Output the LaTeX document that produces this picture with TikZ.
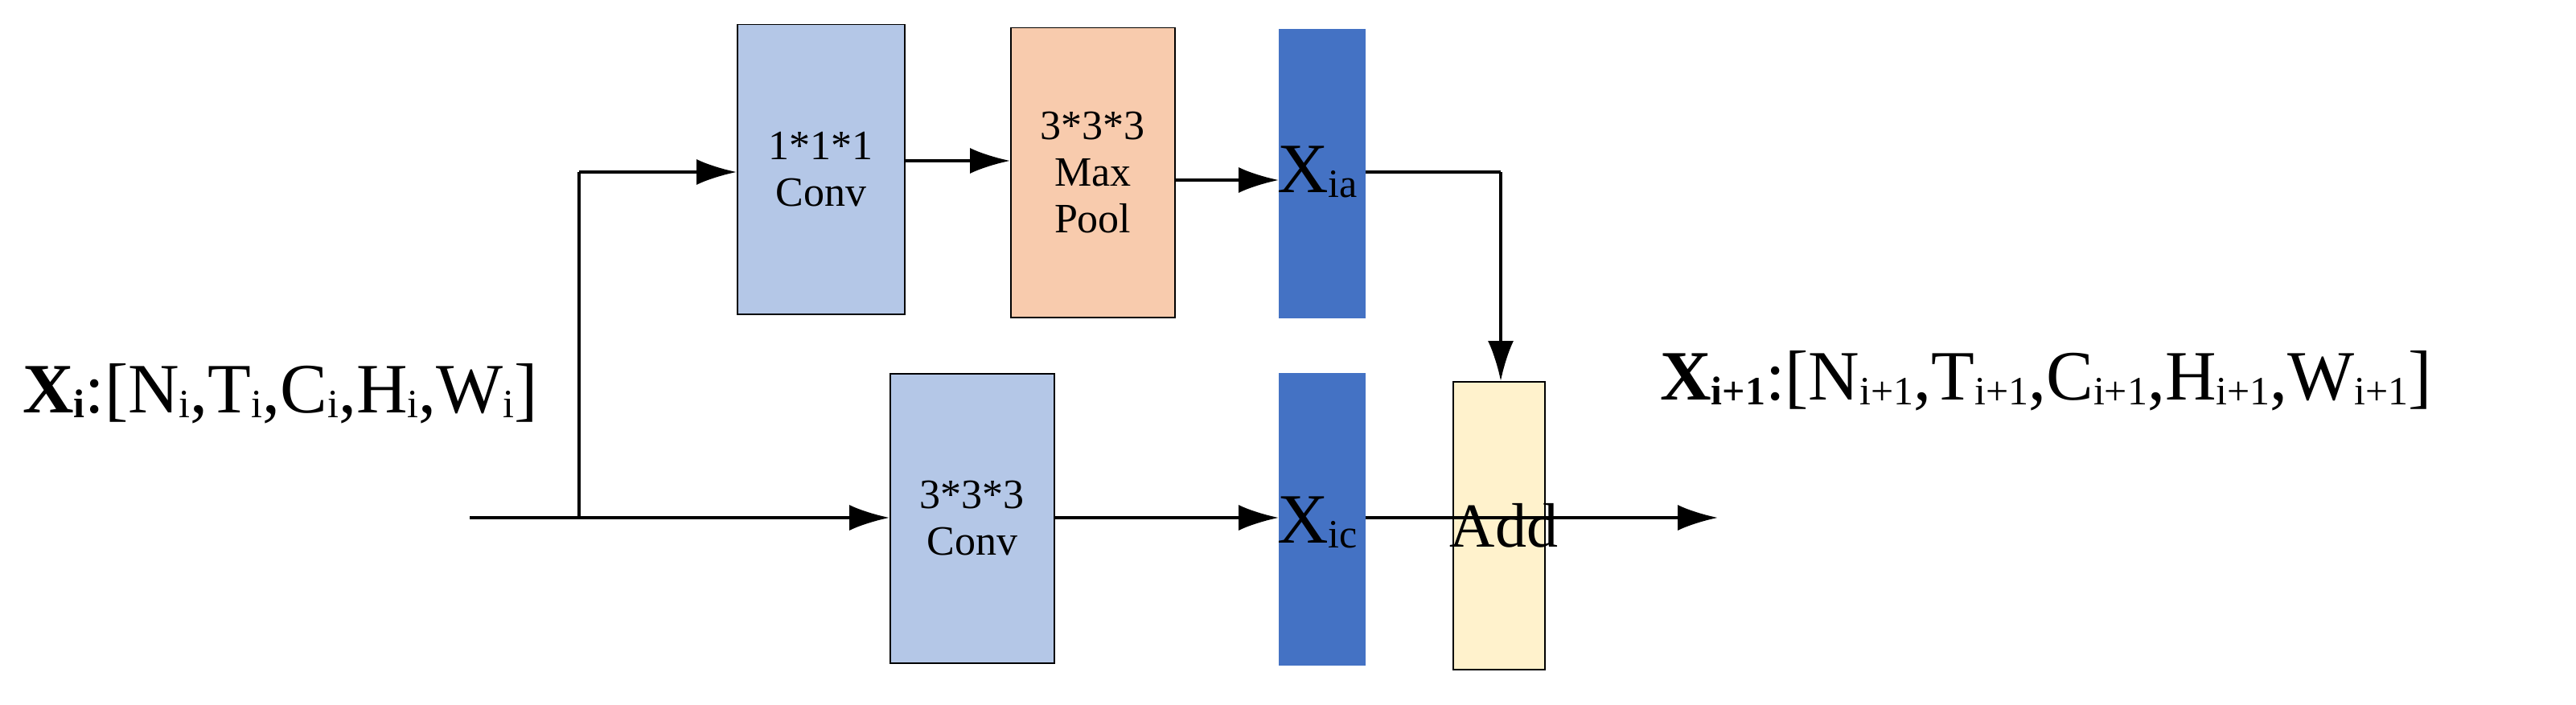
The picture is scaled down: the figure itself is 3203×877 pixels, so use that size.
\documentclass[tikz,border=0pt]{standalone}
\usepackage{fontspec}
\setmainfont{Liberation Serif}
\usetikzlibrary{arrows.meta}
\newcommand\sbx[1]{\raisebox{-0.06em}{\fontsize{50}{52}\selectfont #1}}
\begin{document}
\begin{tikzpicture}[x=1pt,y=-1pt,
  box/.style={draw=black,line width=1.5pt,anchor=north west,inner sep=0pt,align=center},
  lbl/.style={font=\fontsize{52}{58}\selectfont},
  big/.style={font=\fontsize{88}{92}\selectfont},
  add/.style={font=\fontsize{78}{82}\selectfont},
  con/.style={line width=4pt,-{Latex[length=50pt,width=32pt]}},
  ln/.style={line width=4pt}]
\useasboundingbox (0,0) rectangle (3203,877);
\node[box,fill={rgb,255:red,180;green,199;blue,231},minimum width=208pt,minimum height=360pt] (c1) at (916,30) {};
\node[lbl,align=center] at (c1.center) {1*1*1\\Conv};
\node[box,fill={rgb,255:red,248;green,203;blue,173},minimum width=204pt,minimum height=360pt] (mp) at (1256,34) {};
\node[lbl,align=center] at (mp.center) {3*3*3\\Max\\Pool};
\node[box,draw={rgb,255:red,68;green,114;blue,196},fill={rgb,255:red,68;green,114;blue,196},minimum width=106pt,minimum height=358pt] (xa) at (1590,36) {};
\node[box,fill={rgb,255:red,180;green,199;blue,231},minimum width=204pt,minimum height=360pt] (c2) at (1106,464) {};
\node[lbl,align=center] at (c2.center) {3*3*3\\Conv};
\node[box,draw={rgb,255:red,68;green,114;blue,196},fill={rgb,255:red,68;green,114;blue,196},minimum width=106pt,minimum height=362pt] (xc) at (1590,464) {};
\node[box,fill={rgb,255:red,255;green,242;blue,204},minimum width=114pt,minimum height=358pt] (ad) at (1806,474) {};
\coordinate (s) at (584,644);
\coordinate (b) at (720,644);
\coordinate (bt) at (720,214);
\coordinate (e) at (2136,644);
\coordinate (k) at (1866,214);
\draw[con] (s) -- (c2.west|-s);
\draw[ln] (b) -- (bt);
\draw[con] (bt) -- (c1.west|-bt);
\draw[con] (c1.east|-0,200) -- (mp.west|-0,200);
\draw[con] (mp.east|-0,224) -- (xa.west|-0,224);
\draw[ln] (xa.east|-k) -- (k);
\draw[con] (k) -- (ad.north-|k);
\draw[con] (c2.east|-s) -- (xc.west|-s);
\draw[con] (xc.east|-s) -- (e);
\node[big,anchor=west,inner sep=0pt] at (1588,214) {X\sbx{ia}};
\node[big,anchor=west,inner sep=0pt] at (1588,650) {X\sbx{ic}};
\node[add,inner sep=0pt] at (1870,654) {Add};
\node[big,anchor=west,inner sep=0pt] at (28,490) {\textbf{X\sbx{i}}:[N\sbx{i},T\sbx{i},C\sbx{i},H\sbx{i},W\sbx{i}]};
\node[big,anchor=west,inner sep=0pt] at (2064,474) {\textbf{X\sbx{i+1}}:[N\sbx{i+1},T\sbx{i+1},C\sbx{i+1},H\sbx{i+1},W\sbx{i+1}]};
\end{tikzpicture}
\end{document}
